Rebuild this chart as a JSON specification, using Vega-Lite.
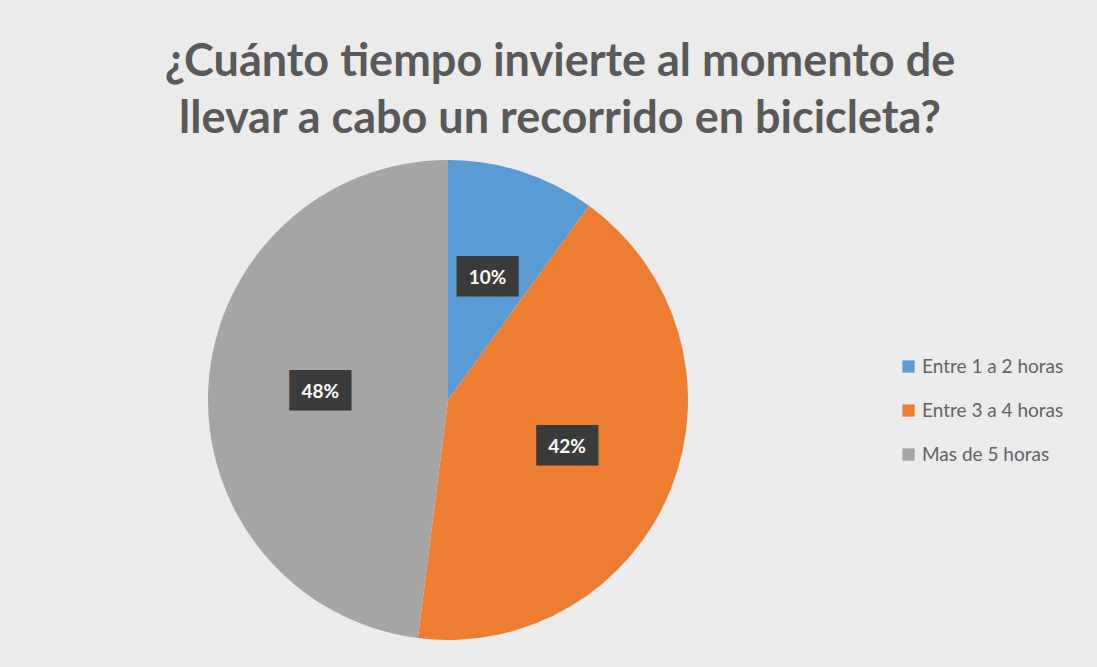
{
  "$schema": "https://vega.github.io/schema/vega-lite/v6.json",
  "autosize": {"type": "none"},
  "width": 896,
  "height": 460,
  "padding": {"left": 0, "top": 170, "right": 201, "bottom": 37},
  "background": "#ebebeb",
  "config": {"view": {"stroke": null}},
  "title": {
    "text": ["¿Cuánto tiempo invierte al momento de", "llevar a cabo un recorrido en bicicleta?"],
    "font": "Lato",
    "fontSize": 45,
    "fontWeight": "bold",
    "color": "#595959",
    "lineHeight": 57,
    "anchor": "middle",
    "dx": 112,
    "offset": 18
  },
  "data": {
    "values": [
      {"categoria": "Entre 1 a 2 horas", "valor": 10, "etiqueta": "10%", "orden": 1},
      {"categoria": "Entre 3 a 4 horas", "valor": 42, "etiqueta": "42%", "orden": 2},
      {"categoria": "Mas de 5 horas", "valor": 48, "etiqueta": "48%", "orden": 3}
    ]
  },
  "encoding": {
    "theta": {"field": "valor", "type": "quantitative", "stack": true},
    "order": {"field": "orden", "type": "quantitative"}
  },
  "layer": [
    {
      "mark": {"type": "arc", "outerRadius": 240, "stroke": null},
      "encoding": {
        "color": {
          "field": "categoria",
          "type": "nominal",
          "scale": {
            "domain": ["Entre 1 a 2 horas", "Entre 3 a 4 horas", "Mas de 5 horas"],
            "range": ["#5b9bd5", "#ed7d31", "#a5a5a5"]
          },
          "legend": {
            "title": null,
            "orient": "none",
            "legendX": 899,
            "legendY": 187,
            "symbolType": "square",
            "symbolSize": 150,
            "labelFont": "Lato",
            "labelFontSize": 19,
            "labelColor": "#636363",
            "rowPadding": 24,
            "labelOffset": 4
          }
        }
      }
    },
    {
      "mark": {"type": "text", "radius": 128, "text": "███", "font": "DejaVu Sans Mono", "fontSize": 34, "color": "#3b3b3b", "baseline": "middle", "align": "center"},
      "encoding": {}
    },
    {
      "mark": {"type": "text", "radius": 128, "font": "Lato", "fontSize": 19, "fontWeight": "bold", "color": "#ffffff", "baseline": "middle", "align": "center"},
      "encoding": {"text": {"field": "etiqueta", "type": "nominal"}}
    }
  ]
}
